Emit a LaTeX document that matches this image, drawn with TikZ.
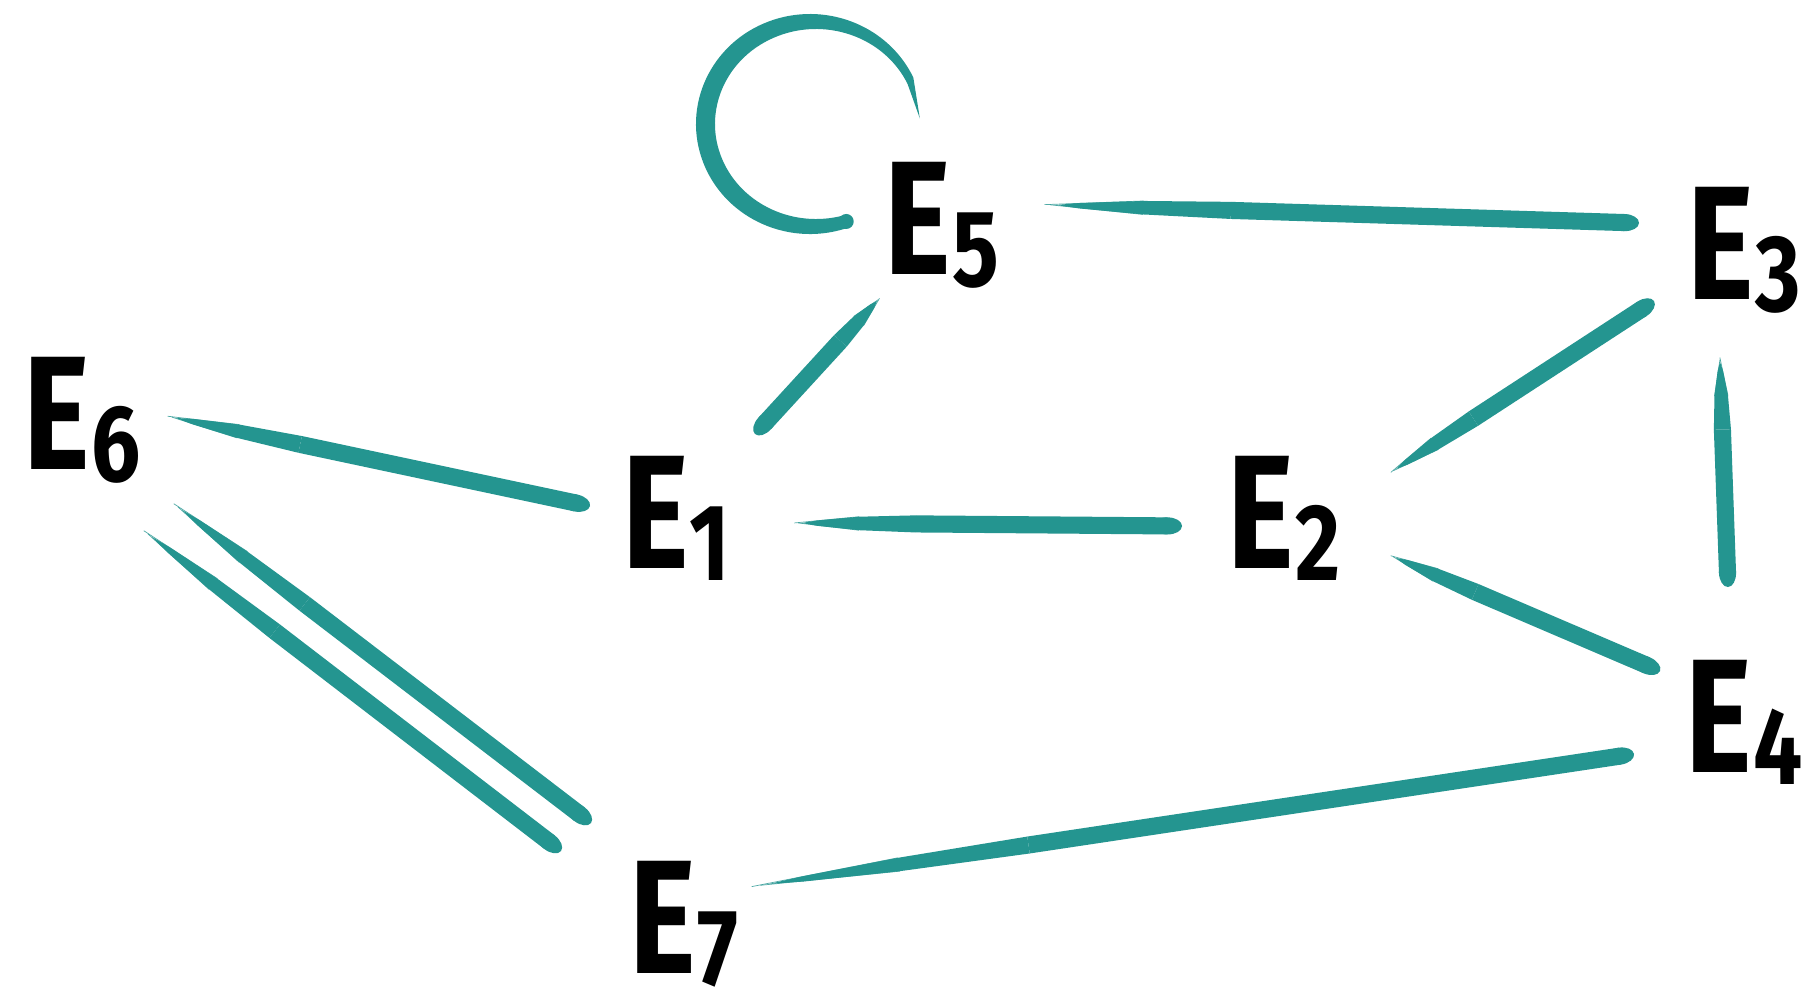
\documentclass[tikz,border=0pt]{standalone}
\usepackage{fontspec}
\usetikzlibrary{calc}
\newfontfamily\Efont{Fira Sans}[FakeStretch=0.78]
\newfontfamily\Dfont{Fira Sans}[FakeStretch=0.8]
\definecolor{ink}{HTML}{249590}
\tikzset{
  lab/.style={inner sep=0pt, text=black},
  hair/.style={ink, line width=0.7pt, opacity=0.8},
}
% vertex label: big E with a lowered index
\newcommand\lbl[1]{{\bfseries\Efont\fontsize{162}{162}\selectfont E}\kern1pt\raisebox{-12pt}{\bfseries\Dfont\fontsize{109}{109}\selectfont #1}}
% brush stroke: [half width] {node}{offset}{node}{offset}; dry start, oval end
\newcommand\brush[5][9]{%
  \path ($(#2)+(#3)$) coordinate (bA) ($(#4)+(#5)$) coordinate (bB);
  \pgfmathsetlengthmacro\bwa{0.3*#1}%
  \pgfmathsetlengthmacro\bwb{0.75*#1}%
  \pgfmathsetlengthmacro\bwc{0.95*#1}%
  \pgfmathsetlengthmacro\bwd{1.9*#1}%
  \pgfmathsetlengthmacro\bwe{1.6*#1}%
  \path ($(bA)!0.04!(bB)$) coordinate (b1)
        ($(bA)!0.15!(bB)$) coordinate (b2)
        ($(bA)!0.3!(bB)$) coordinate (b3)
        ($(bB)!\bwe!(bA)$) coordinate (bC);
  \pgfmathanglebetweenpoints{\pgfpointanchor{bA}{center}}{\pgfpointanchor{bB}{center}}%
  \let\bang\pgfmathresult
  % tapered dry start
  \fill[ink] (bA)
    -- ($(b1)!\bwa!90:(bB)$) -- ($(b2)!\bwb!90:(bB)$) -- ($(b3)!\bwc!90:(bB)$)
    -- ($(b3)!\bwc!-90:(bB)$) -- ($(b2)!\bwb!-90:(bB)$) -- ($(b1)!\bwa!-90:(bB)$)
    -- cycle;
  % full body and oval end
  \draw[ink, line width=\bwd] (b3) -- (bC);
  \fill[ink] (bC) ellipse[x radius=\bwe, y radius=\bwc, rotate=\bang];
  \draw[hair] ($(bA)!-0.02!(bB)$) -- ($(b2)!\bwb!90:(bB)$);
  \draw[hair] ($(bA)!-0.01!(bB)$) -- ($(b2)!\bwb!-90:(bB)$);
}
\begin{document}
\begin{tikzpicture}[x=1pt, y=-1pt]
\useasboundingbox (0,0) rectangle (1804,994);
\fill[white] (0,0) rectangle (1804,994);

% vertices
\node[lab] (E5) at (942,225) {\lbl{5}};
\node[lab] (E3) at (1744,250) {\lbl{3}};
\node[lab] (E6) at (82,420) {\lbl{6}};
\node[lab] (E1) at (676,518) {\lbl{1}};
\node[lab] (E2) at (1284,518) {\lbl{2}};
\node[lab] (E4) at (1744,722) {\lbl{4}};
\node[lab] (E7) at (684,924) {\lbl{7}};

% edges
\brush{E5}{114,-20}{E3}{-105,-27}
\brush{E5}{-65,76}{E1}{79,-84}
\brush{E6}{94,-2}{E1}{-86,-12}
\brush{E1}{126,5}{E2}{-102,8}
\brush{E2}{112,-49}{E3}{-90,51}
\brush{E3}{-24,112}{E4}{-16,-135}
\brush{E2}{112,40}{E4}{-84,-51}
\brush{E6}{100,90}{E7}{-93,-101}
\brush{E6}{70,117}{E7}{-123,-73}
\brush{E7}{85,-40}{E4}{-110,32}

% self-loop on E5
\coordinate (lc) at ($(E5)+(-132,-101)$);
\coordinate (li) at ($(lc)+(6,0)$);
\fill[ink] ($(lc)+(72:114 and 110)$)
  arc[start angle=72, end angle=335, x radius=114, y radius=110]
  -- ($(lc)+(357:110 and 106)$)
  -- ($(li)+(335:101 and 95)$)
  arc[start angle=335, end angle=72, x radius=101, y radius=95]
  -- cycle;
\fill[ink] ($($(lc)+(72:114 and 110)$)!0.5!($(li)+(72:101 and 95)$)$) circle[radius=7.5pt];
\end{tikzpicture}
\end{document}
